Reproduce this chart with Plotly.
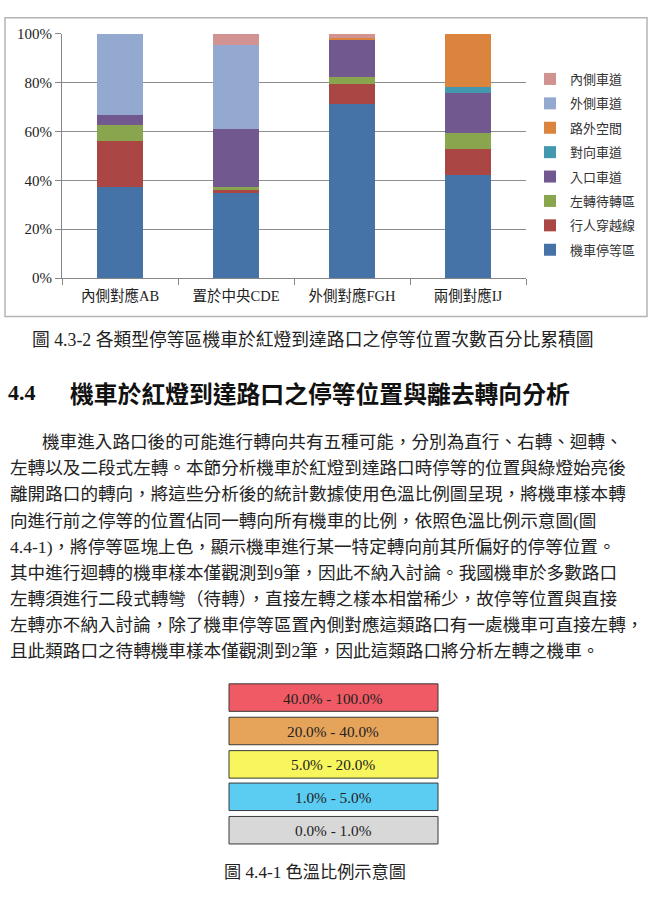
import plotly.graph_objects as go

W, H = 651, 905

categories = ["內側對應AB", "置於中央CDE", "外側對應FGH", "兩側對應IJ"]
# stacking order bottom -> top (percent)
series_names = ["機車停等區", "行人穿越線", "左轉待轉區", "入口車道", "對向車道", "路外空間", "外側車道", "內側車道"]
v_moto = [37.3, 35.0, 71.3, 42.0]
v_walk = [18.9, 1.1, 8.0, 10.6]
v_wait = [6.4, 1.3, 3.0, 6.6]
v_entry = [4.0, 23.4, 15.4, 16.4]
v_opp = [0.0, 0.0, 0.0, 2.4]
v_out = [0.0, 0.0, 0.6, 22.0]
v_outer = [33.4, 34.5, 0.0, 0.0]
v_inner = [0.0, 4.7, 1.7, 0.0]
series_values = [v_moto, v_walk, v_wait, v_entry, v_opp, v_out, v_outer, v_inner]
series_colors = ["#4572A7", "#AA4643", "#89A54E", "#71588F", "#4198AF", "#DB843D", "#93A9CF", "#D19392"]
y_ticks = [0, 20, 40, 60, 80, 100]
y_ticktext = ["0%", "20%", "40%", "60%", "80%", "100%"]

scale_labels = ["40.0% - 100.0%", "20.0% - 40.0%", "5.0% - 20.0%", "1.0% - 5.0%", "0.0% - 1.0%"]
scale_colors = ["#F05A64", "#E6A45A", "#F7F65C", "#5BCCF2", "#D8D8D8"]

caption1 = "圖 4.3-2 各類型停等區機車於紅燈到達路口之停等位置次數百分比累積圖"
heading_num = "4.4"
heading_text = "機車於紅燈到達路口之停等位置與離去轉向分析"
para_lines = [
    "機車進入路口後的可能進行轉向共有五種可能，分別為直行、右轉、迴轉、",
    "左轉以及二段式左轉。本節分析機車於紅燈到達路口時停等的位置與綠燈始亮後",
    "離開路口的轉向，將這些分析後的統計數據使用色溫比例圖呈現，將機車樣本轉",
    "向進行前之停等的位置佔同一轉向所有機車的比例，依照色溫比例示意圖(圖",
    "4.4-1)，將停等區塊上色，顯示機車進行某一特定轉向前其所偏好的停等位置。",
    "其中進行迴轉的機車樣本僅觀測到9筆，因此不納入討論。我國機車於多數路口",
    "左轉須進行二段式轉彎（待轉），直接左轉之樣本相當稀少，故停等位置與直接",
    "左轉亦不納入討論，除了機車停等區置內側對應這類路口有一處機車可直接左轉，",
    "且此類路口之待轉機車樣本僅觀測到2筆，因此這類路口將分析左轉之機車。",
]
caption2 = "圖 4.4-1 色溫比例示意圖"

FONT = "Liberation Serif, 'Noto Sans CJK TC', serif"
CJK = "'Noto Sans CJK TC', Liberation Serif"


def px(x):
    return x / W


def py(y):
    return 1 - y / H


fig = go.Figure()
n = len(series_names)
for i, (name, vals, col) in enumerate(zip(series_names, series_values, series_colors)):
    fig.add_trace(go.Bar(
        x=categories, y=vals, name=name, marker=dict(color=col, line=dict(width=0)),
        legendgroup=name, legendrank=n - i,
    ))

shapes = []
annotations = []

# chart frame
shapes.append(dict(type="rect", xref="paper", yref="paper", x0=px(5), x1=px(647), y0=py(314), y1=py(10),
                   line=dict(color="#B4B4B4", width=1.5), fillcolor="rgba(0,0,0,0)", layer="below"))

# caption 1
annotations.append(dict(text=caption1, x=px(313), y=py(338), xref="paper", yref="paper", showarrow=False,
                        xanchor="center", yanchor="middle", font=dict(family=FONT, size=17.8, color="#222")))
# heading
annotations.append(dict(text="<b>" + heading_num + "</b>", x=px(6), y=py(391), xref="paper", yref="paper",
                        showarrow=False, xanchor="left", yanchor="middle",
                        font=dict(family=FONT, size=22, color="#111")))
annotations.append(dict(text="<b>" + heading_text + "</b>", x=px(68), y=py(391), xref="paper", yref="paper",
                        showarrow=False, xanchor="left", yanchor="middle",
                        font=dict(family=CJK, size=23.8, color="#111")))
# paragraph
for k, line in enumerate(para_lines):
    x0 = 40 if k == 0 else 8
    annotations.append(dict(text=line, x=px(x0), y=py(442 + k * 26.6), xref="paper", yref="paper",
                            showarrow=False, xanchor="left", yanchor="middle",
                            font=dict(family=FONT, size=17.6, color="#222")))

# color scale boxes
box_tops = [688, 722, 756, 789, 823]
for lab, col, top in zip(scale_labels, scale_colors, box_tops):
    shapes.append(dict(type="rect", xref="paper", yref="paper", x0=px(229), x1=px(438), y0=py(top + 28), y1=py(top),
                       line=dict(color="#3A3A3A", width=1), fillcolor=col))
    annotations.append(dict(text=lab, x=px(333), y=py(top + 14.5), xref="paper", yref="paper", showarrow=False,
                            xanchor="center", yanchor="middle", font=dict(family=FONT, size=15.3, color="#222")))

annotations.append(dict(text=caption2, x=px(315), y=py(880), xref="paper", yref="paper", showarrow=False,
                        xanchor="center", yanchor="middle", font=dict(family=FONT, size=17.2, color="#222")))

fig.update_layout(
    width=W, height=H, autosize=False,
    margin=dict(l=0, r=0, t=0, b=0),
    paper_bgcolor="white", plot_bgcolor="white",
    barmode="stack", bargap=0.6,
    font=dict(family=FONT, color="#222"),
    xaxis=dict(domain=[px(62), px(526)], showline=True, linecolor="#868686", linewidth=1,
               ticks="outside", tickson="boundaries", ticklen=6, tickcolor="#868686", ticklabelstandoff=4,
               tickfont=dict(family=FONT, size=14.5, color="#222"), showgrid=False, fixedrange=True),
    yaxis=dict(domain=[py(275), py(26)], range=[0, 100], tickmode="array", tickvals=y_ticks, ticktext=y_ticktext,
               showline=True, linecolor="#868686", linewidth=1, ticks="outside", ticklen=6,
               tickcolor="#868686", showgrid=True, gridcolor="#8C8C8C", gridwidth=1,
               tickfont=dict(family=FONT, size=15, color="#222"), zeroline=False, fixedrange=True),
    legend=dict(x=px(530), y=py(57), xanchor="left", yanchor="top", traceorder="grouped",
                tracegroupgap=4.5, font=dict(family=CJK, size=13, color="#333"),
                bgcolor="rgba(0,0,0,0)", itemwidth=30),
    shapes=shapes, annotations=annotations,
)

fig.write_html("out.html")
